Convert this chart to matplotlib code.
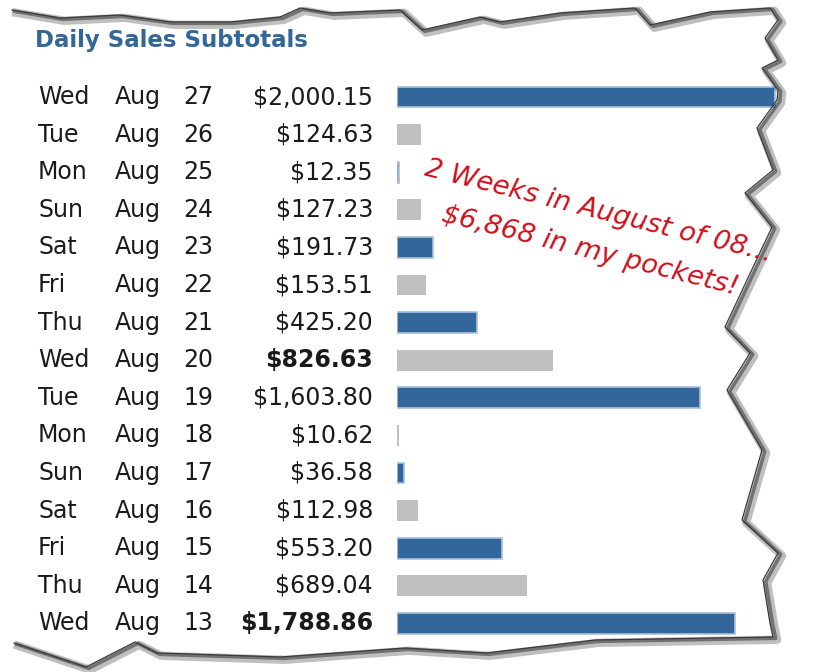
import matplotlib
matplotlib.use("Agg")
from matplotlib import pyplot as plt
from matplotlib import patheffects as pe
from matplotlib.transforms import blended_transform_factory
import numpy as np

# data, top row first
days = ["Wed", "Tue", "Mon", "Sun", "Sat", "Fri", "Thu", "Wed",
        "Tue", "Mon", "Sun", "Sat", "Fri", "Thu", "Wed"]
months = ["Aug"] * 15
dates = [27, 26, 25, 24, 23, 22, 21, 20, 19, 18, 17, 16, 15, 14, 13]
sales = [2000.15, 124.63, 12.35, 127.23, 191.73, 153.51, 425.20, 826.63,
         1603.80, 10.62, 36.58, 112.98, 553.20, 689.04, 1788.86]
bold_rows = [7, 14]

W, H = 838, 672
fig = plt.figure(figsize=(W / 100, H / 100), dpi=100)
fig.patch.set_facecolor("white")

# bar axes, placed in pixel terms
x0, x1 = 397, 777
row0, step = 97, 37.6
n = len(sales)
ytop = row0 - step / 2
ybot = row0 + (n - 1) * step + step / 2
ax = fig.add_axes([x0 / W, 1 - ybot / H, (x1 - x0) / W, (ybot - ytop) / H])
ax.set_xlim(0, 2010)
ax.set_ylim(n - 0.5, -0.5)
ax.axis("off")

blue, grey = "#33669a", "#c0c0c0"
for i, v in enumerate(sales):
    if i % 2 == 0:
        ax.barh(i, v, height=0.55, color=blue, edgecolor="#a9c0dc", linewidth=1.2)
    else:
        ax.barh(i, v, height=0.55, color=grey, edgecolor="none")

# text columns
tr = blended_transform_factory(fig.transFigure, ax.transData)
fs = 17
txt = "#1a1a1a"
for i in range(n):
    ax.text(38 / W, i, days[i], transform=tr, fontsize=fs, va="center", ha="left", color=txt)
    ax.text(115 / W, i, months[i], transform=tr, fontsize=fs, va="center", ha="left", color=txt)
    ax.text(183 / W, i, str(dates[i]), transform=tr, fontsize=fs, va="center", ha="left", color=txt)
    ax.text(373 / W, i, f"${sales[i]:,.2f}", transform=tr, fontsize=fs, va="center", ha="right",
            color=txt, fontweight="bold" if i in bold_rows else "normal")

fig.text(35 / W, 1 - 41 / H, "Daily Sales Subtotals", fontsize=16.5, fontweight="bold",
         color="#336699", va="center", ha="left")

# handwritten note
fig.text(425 / W, 1 - 168 / H, "2 Weeks in August of 08...", fontsize=19.5, style="italic",
         color="#d0101a", rotation=-14, rotation_mode="anchor", va="center", ha="left")
fig.text(442 / W, 1 - 214 / H, "$6,868 in my pockets!", fontsize=19.5, style="italic",
         color="#d0101a", rotation=-14, rotation_mode="anchor", va="center", ha="left")

# torn paper edge
edge = [(12, 10), (60, 18), (120, 15), (170, 22), (230, 22), (280, 17), (300, 8), (330, 13),
        (400, 10), (422, 30), (480, 17), (500, 22), (560, 13), (635, 8), (650, 25), (710, 12),
        (770, 8), (778, 20), (765, 38), (778, 60), (762, 68), (778, 90), (777, 100), (757, 128),
        (773, 170), (745, 193), (772, 227), (747, 280), (725, 327), (750, 353), (727, 390),
        (762, 450), (742, 520), (778, 553), (763, 580), (770, 623), (773, 637), (595, 640),
        (486, 653), (405, 648), (281, 657), (157, 653), (135, 642), (86, 667), (14, 643)]
ex = [p[0] / W for p in edge]
ey = [1 - p[1] / H for p in edge]
fig.add_artist(plt.Line2D(ex, ey, color="#3a3a3a", linewidth=0.9,
                          path_effects=[pe.SimpleLineShadow(offset=(3, -2), shadow_color="black", alpha=0.25, linewidth=6),
                                        pe.SimpleLineShadow(offset=(2, -1), shadow_color="black", alpha=0.4, linewidth=2.5),
                                        pe.Normal()]))

fig.savefig("out.png", dpi=100)
